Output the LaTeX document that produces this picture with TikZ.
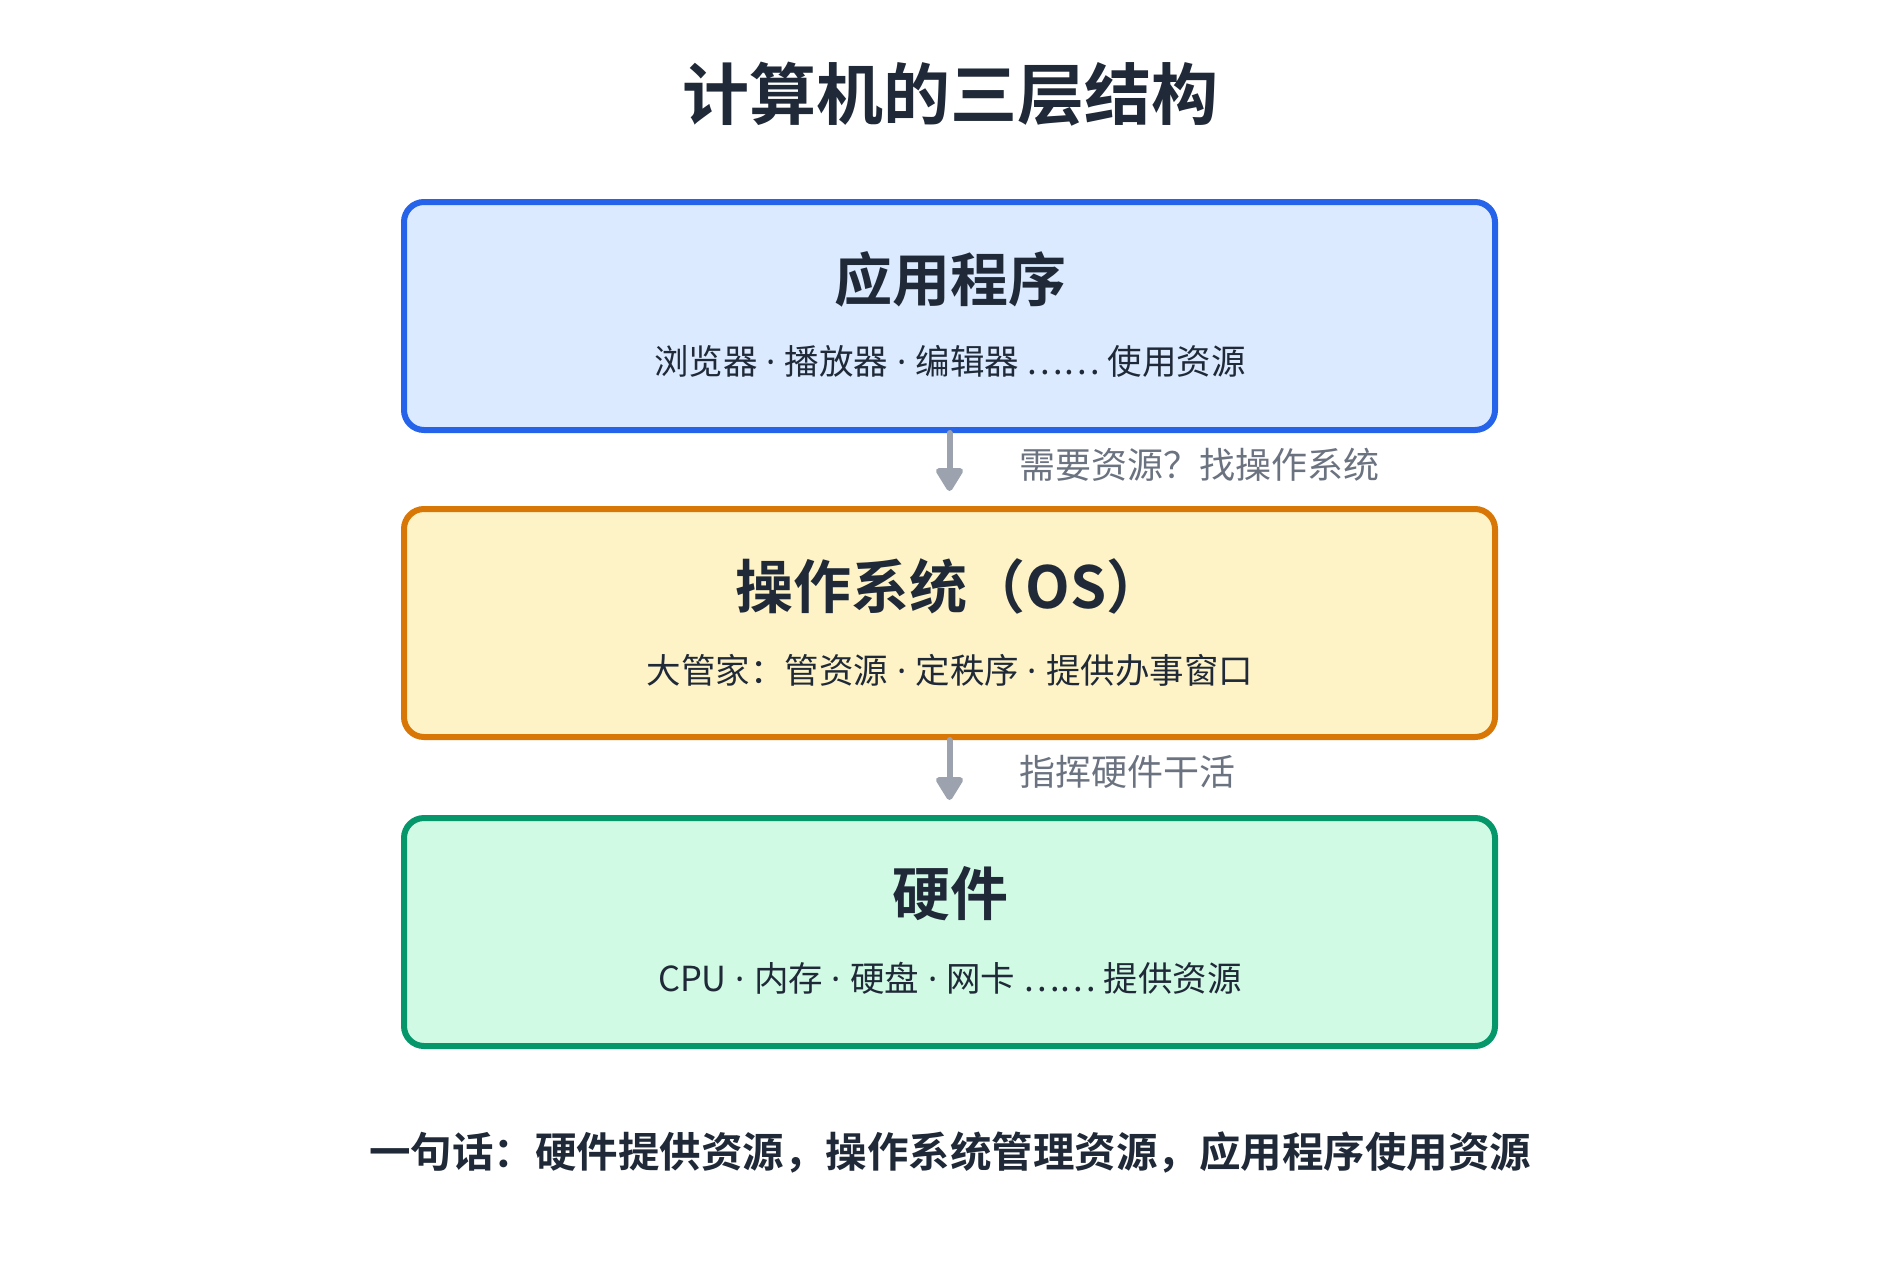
\documentclass[tikz,border=0pt]{standalone}
\usepackage{fontspec}
\setmainfont{Noto Sans CJK SC}[BoldFont={Noto Sans CJK SC Bold}]
\newfontfamily\latinfont{Noto Sans}
\newcommand{\mdot}{{\latinfont\ ·\ }}
\usetikzlibrary{arrows.meta}
\definecolor{ink}{HTML}{1F2937}
\definecolor{muted}{HTML}{6B7280}
\definecolor{arrowgray}{HTML}{9CA3AF}
\definecolor{blueB}{HTML}{2563EB}
\definecolor{blueF}{HTML}{DBEAFE}
\definecolor{orangeB}{HTML}{D97706}
\definecolor{orangeF}{HTML}{FEF3C7}
\definecolor{greenB}{HTML}{059669}
\definecolor{greenF}{HTML}{D1FAE5}
\tikzset{
  layerbox/.style={rectangle, rounded corners=20pt, line width=6pt,
    minimum width=1091pt, minimum height=228pt, inner sep=0pt},
  maintitle/.style={font=\fontsize{67}{80}\selectfont\bfseries, text=ink},
  layertitle/.style={font=\fontsize{58}{70}\selectfont\bfseries, text=ink},
  layersub/.style={font=\fontsize{34.5}{41}\selectfont, text=ink},
  arrlabel/.style={font=\fontsize{36}{43}\selectfont, text=muted, anchor=west},
  summary/.style={font=\fontsize{41.5}{50}\selectfont\bfseries, text=ink},
  flow/.style={draw=arrowgray, line width=6pt, line cap=round,
    -{Triangle[width=30pt,length=26pt,round]}}
}
\begin{document}
\begin{tikzpicture}[x=1pt,y=-1pt]
\useasboundingbox[fill=white] (0,0) rectangle (1900,1272);
\node[maintitle] (title) at (950,94) {计算机的三层结构};

\node[layerbox, draw=blueB, fill=blueF] (b1) at (949.5,316) {};
\node[layertitle] (t1) at (950,279) {应用程序};
\node[layersub] (s1) at (950,361) {浏览器\mdot 播放器\mdot 编辑器 …… 使用资源};

\node[layerbox, draw=orangeB, fill=orangeF] (b2) at (949.5,623) {};
\node[layertitle] (t2) at (950,586) {操作系统（OS）};
\node[layersub] (s2) at (950,670) {大管家：管资源\mdot 定秩序\mdot 提供办事窗口};

\node[layerbox, draw=greenB, fill=greenF] (b3) at (949.5,932) {};
\node[layertitle] (t3) at (950,894) {硬件};
\node[layersub] (s3) at (950,978) {CPU\mdot 内存\mdot 硬盘\mdot 网卡 …… 提供资源};

\draw[flow] (b1.south) -- ([yshift=15pt]b2.north);
\draw[flow] (b2.south) -- ([yshift=15pt]b3.north);
\node[arrlabel] (l1) at (1016,465) {需要资源？找操作系统};
\node[arrlabel] (l2) at (1016,772) {指挥硬件干活};

\node[summary] (sum) at (950,1152) {一句话：硬件提供资源，操作系统管理资源，应用程序使用资源};
\end{tikzpicture}
\end{document}
